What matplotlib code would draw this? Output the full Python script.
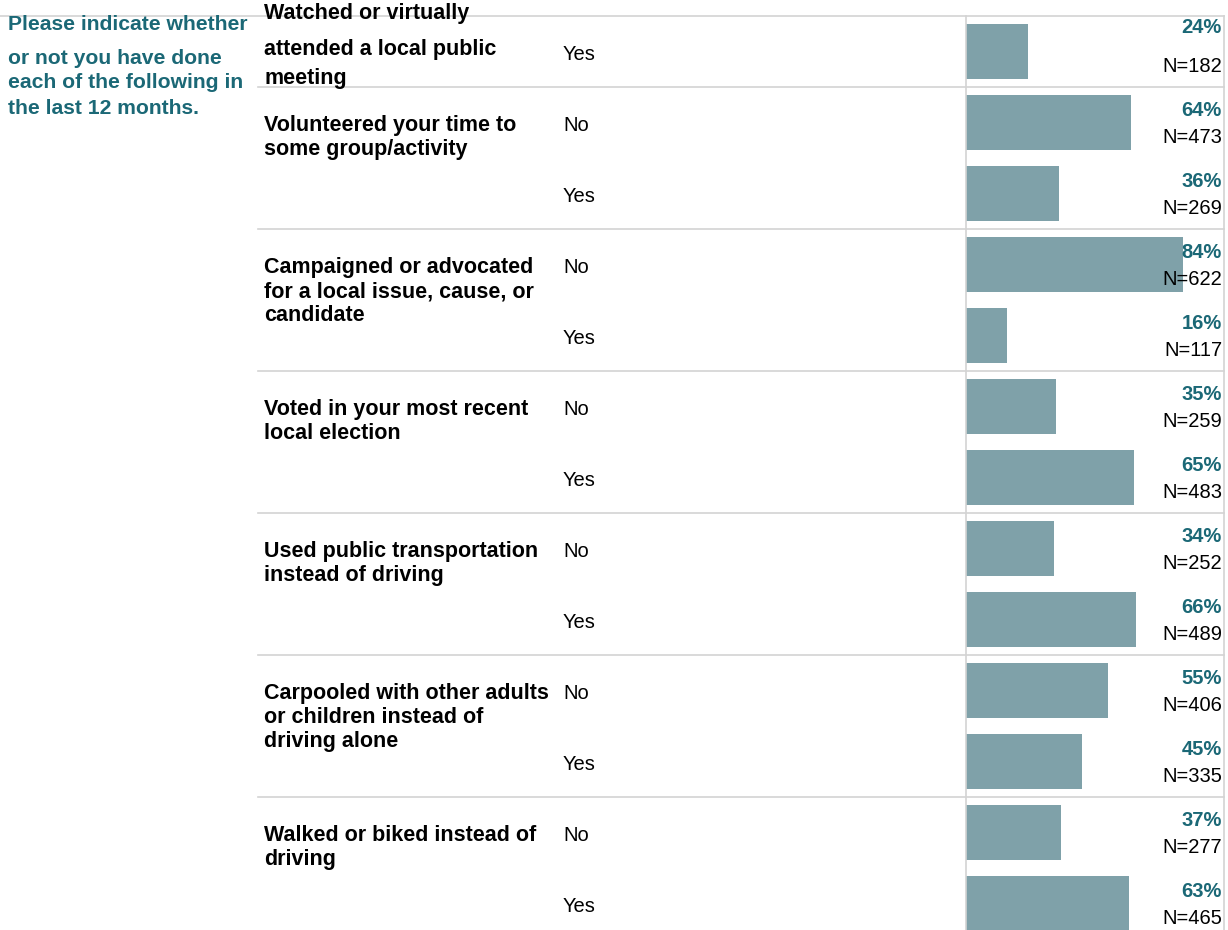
import matplotlib
matplotlib.use("Agg")
import matplotlib.pyplot as plt
from matplotlib import transforms

plt.rcParams['font.family'] = ['Liberation Sans', 'DejaVu Sans']

# --- data ---
title_lines = ["Please indicate whether", "or not you have done",
               "each of the following in", "the last 12 months."]
questions = [
    ["Watched or virtually", "attended a local public", "meeting"],
    ["Volunteered your time to", "some group/activity"],
    ["Campaigned or advocated", "for a local issue, cause, or", "candidate"],
    ["Voted in your most recent", "local election"],
    ["Used public transportation", "instead of driving"],
    ["Carpooled with other adults", "or children instead of", "driving alone"],
    ["Walked or biked instead of", "driving"],
]
row_group = [0, 1, 1, 2, 2, 3, 3, 4, 4, 5, 5, 6, 6]
answers = ["Yes", "No", "Yes", "No", "Yes", "No", "Yes",
           "No", "Yes", "No", "Yes", "No", "Yes"]
pct = [24, 64, 36, 84, 16, 35, 65, 34, 66, 55, 45, 37, 63]
counts = [182, 473, 269, 622, 117, 259, 483, 252, 489, 406, 335, 277, 465]

# --- style ---
W, H = 1228, 930
ROW = 71.0          # pixels per row
bar_color = "#7fa1a9"
teal = "#1b6876"
grid = "#d3d3d3"

fig = plt.figure(figsize=(W / 100, H / 100), dpi=100)
n_rows = len(pct)
top_px, left_px, right_px = 16, 966, 1224
ax = fig.add_axes([left_px / W, 1 - (top_px + n_rows * ROW) / H,
                   (right_px - left_px) / W, n_rows * ROW / H])

rows = list(range(n_rows))
ax.barh(rows, pct, height=55 / ROW, color=bar_color)
ax.set_xlim(0, 100)
ax.set_ylim(n_rows - 0.5, -0.5)
ax.set_xticks([])
ax.set_yticks([])
for s in ["left", "right"]:
    ax.spines[s].set_color(grid)
    ax.spines[s].set_linewidth(1.2)
ax.spines["top"].set_visible(False)
ax.spines["bottom"].set_visible(False)

# x in figure fraction, y in row units
tr = transforms.blended_transform_factory(fig.transFigure, ax.transData)
px = 1.0 / ROW

# top rule across the whole width, separators between questions
ax.plot([0, right_px / W], [-0.5, -0.5], transform=tr, color=grid,
        lw=1.2, clip_on=False)
starts = [row_group.index(g) for g in range(len(questions))]
for s in starts[1:] + [n_rows]:
    ax.plot([258 / W, right_px / W], [s - 0.5, s - 0.5], transform=tr,
            color=grid, lw=1.2, clip_on=False)

# left title
for y, line in zip([25, 58, 83, 109], title_lines):
    fig.text(8 / W, 1 - y / H, line, color=teal, fontsize=15.2,
             fontweight="bold", va="center", ha="left")

# question labels
for g, lines in enumerate(questions):
    r = starts[g]
    if g == 0:
        offs = [-38, -2, 27]
    else:
        offs = [3 + 24 * k for k in range(len(lines))]
    for o, line in zip(offs, lines):
        ax.text(264 / W, r + o * px, line, transform=tr, fontsize=15.5,
                fontweight="bold", va="center", ha="left", color="black")

# answers, percentages and counts
for i in rows:
    ax.text(563 / W, i + 3 * px, answers[i], transform=tr, fontsize=14.5,
            va="center", ha="left", color="black")
    po = -24 if i == 0 else -12
    ax.text(1222 / W, i + po * px, f"{pct[i]}%", transform=tr, fontsize=14.5,
            fontweight="bold", va="center", ha="right", color=teal)
    ax.text(1222 / W, i + 15 * px, f"N={counts[i]}", transform=tr,
            fontsize=14.5, va="center", ha="right", color="black")

fig.savefig("out.png", dpi=100)
